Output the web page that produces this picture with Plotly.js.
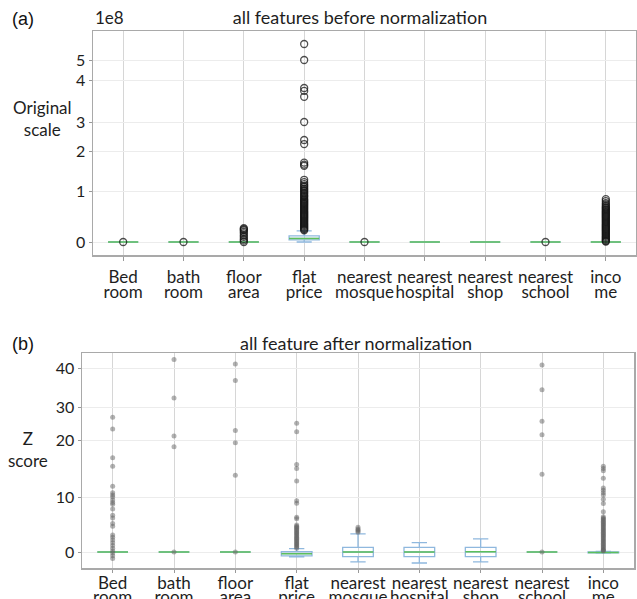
<!DOCTYPE html>
<html>
<head>
<meta charset="utf-8">
<script src="https://cdn.plot.ly/plotly-3.0.1.min.js"></script>
<style>html,body{margin:0;padding:0;background:#fff}#chart{width:637px;height:599px}</style>
</head>
<body>
<div id="chart"></div>
<script>
// ---------- data ----------
const categories = ['Bed room','bath room','floor area','flat price','nearest mosque','nearest hospital','nearest shop','nearest school','income'];
const tickLine1 = ['Bed','bath','floor','flat','nearest','nearest','nearest','nearest','inco'];
const tickLine2 = ['room','room','area','price','mosque','hospital','shop','school','me'];

// (a) original scale, values in units of 1e8
const tickValsA = [0, 1, 2, 3, 4, 5];
const q1A  = [0, 0, 0, 0.04, 0, 0, 0, 0, 0];
const medA = [0, 0, 0, 0.07, 0, 0, 0, 0, 0];
const q3A  = [0, 0, 0, 0.12, 0, 0, 0, 0, 0];
const loA  = [0, 0, 0, 0,    0, 0, 0, 0, 0];
const hiA  = [0, 0, 0, 0.22, 0, 0, 0, 0, 0];
const outBedA = [0];
const outBathA = [0];
const outFloorA = [0, 0.03, 0.06, 0.1, 0.13, 0.17, 0.2, 0.23, 0.25, 0.27];
const outFlatA = [5.8, 5.0, 3.81, 3.74, 3.6, 3.0, 2.38, 2.24, 1.71, 1.66, 1.63, 1.28, 1.22, 1.17, 1.13, 1.1, 1.06,
  1.03, 1.0, 0.97, 0.95, 0.92, 0.9, 0.88, 0.85, 0.83, 0.81, 0.79, 0.77, 0.75, 0.73, 0.71, 0.69, 0.67, 0.65, 0.63,
  0.61, 0.59, 0.57, 0.55, 0.53, 0.51, 0.49, 0.47, 0.45, 0.43, 0.41, 0.39, 0.37, 0.35, 0.33, 0.31, 0.29, 0.27, 0.25, 0.23];
const outMosqueA = [0];
const outHospitalA = [];
const outShopA = [];
const outSchoolA = [0];
const outIncomeA = [0.84, 0.8, 0.76, 0.73, 0.7, 0.68, 0.66, 0.64, 0.62, 0.6, 0.58, 0.56, 0.54, 0.52, 0.5, 0.48, 0.46,
  0.44, 0.42, 0.4, 0.38, 0.36, 0.34, 0.32, 0.3, 0.28, 0.26, 0.24, 0.22, 0.2, 0.18, 0.16, 0.14, 0.12, 0.1, 0.08, 0.06, 0.04, 0.02, 0.01];

// (b) z scores
const tickValsB = [0, 10, 20, 30, 40];
const q1B  = [0, 0, 0, -0.7,  -0.85, -0.85, -0.85, 0, -0.15];
const medB = [0, 0, 0, -0.3,   0,     0,     0.05, 0, -0.08];
const q3B  = [0, 0, 0, 0.05,   0.85,  0.85,  0.85, 0, 0];
const loB  = [0, 0, 0, -0.9,  -1.8,  -2.0,  -1.8,  0, -0.2];
const hiB  = [0, 0, 0, 0.6,    3.3,   1.7,   2.4,  0, 0.1];
const outBedB = [26.9, 23.3, 16.9, 15.4, 11.9, 10.75, 10.35, 10.0, 9.45, 9.0, 8.7, 7.8, 6.7, 6.2, 5.2, 4.7, 3.1, 2.7,
  2.2, 1.7, 1.2, 0.7, 0.2, -0.2, -0.7, -1.2];
const outBathB = [42.2, 32.3, 21.2, 18.8, 0];
const outFloorB = [41.0, 36.8, 22.9, 19.5, 13.8, 0];
const outFlatB = [25.1, 22.5, 15.7, 15.0, 12.8, 9.3, 8.85, 6.3, 6.05, 4.9, 4.7, 4.5, 4.3, 4.1, 3.9, 3.7, 3.5, 3.3,
  3.1, 2.9, 2.7, 2.5, 2.3, 2.1, 1.9, 1.7, 1.5, 1.3, 1.1, 0.9, 0.7];
const outMosqueB = [3.6, 3.8, 4.0, 4.2, 4.5];
const outHospitalB = [];
const outShopB = [];
const outSchoolB = [40.8, 34.4, 25.7, 21.6, 14.0, 0];
const outIncomeB = [15.4, 15.0, 14.6, 13.3, 11.6, 11.2, 10.75, 10.35, 9.6, 8.8, 7.3, 6.4, 6.2, 6.0, 5.8, 5.6, 5.4,
  5.2, 5.0, 4.8, 4.6, 4.4, 4.2, 4.0, 3.8, 3.6, 3.4, 3.2, 3.0, 2.8, 2.6, 2.4, 2.2, 2.0, 1.8, 1.6, 1.4, 1.2, 1.0, 0.8,
  0.6, 0.4, 0.3, 0.2];

// ---------- non-uniform axis scales (as in the original figure) ----------
const scaleA = {vals: [0, 1, 2, 3, 4, 5], pos: [0, 51, 91, 120, 162, 182]};
const scaleB = {vals: [0, 10, 20, 30, 40], pos: [0, 55, 112, 145, 184]};
function warp(v, s) {
  const a = s.vals, p = s.pos;
  let i = 0;
  if (v >= a[a.length - 1]) i = a.length - 2;
  else if (v > a[0]) { while (v > a[i + 1]) i++; }
  return p[i] + (v - a[i]) * (p[i + 1] - p[i]) / (a[i + 1] - a[i]);
}

const outA = [outBedA, outBathA, outFloorA, outFlatA, outMosqueA, outHospitalA, outShopA, outSchoolA, outIncomeA];
const outB = [outBedB, outBathB, outFloorB, outFlatB, outMosqueB, outHospitalB, outShopB, outSchoolB, outIncomeB];

function flatten(groups, s) {
  const xs = [], ys = [];
  groups.forEach((g, i) => g.forEach(v => { xs.push(categories[i]); ys.push(warp(v, s)); }));
  return {xs, ys};
}

const BOXCOL = '#8fb8de', MEDCOL = '#5cbf5c';
function boxTraces(q1, med, q3, lo, hi, s, xa, ya) {
  const w = arr => arr.map(v => warp(v, s));
  return [
    {type: 'box', x: categories, q1: w(q1), median: w(med), q3: w(q3), lowerfence: w(lo), upperfence: w(hi),
     xaxis: xa, yaxis: ya, width: 0.5, whiskerwidth: 0.5, boxpoints: false, fillcolor: 'rgba(0,0,0,0)',
     line: {color: BOXCOL, width: 1.3}, hoverinfo: 'skip', showlegend: false},
    {type: 'box', x: categories, q1: w(med), median: w(med), q3: w(med), lowerfence: w(med), upperfence: w(med),
     xaxis: xa, yaxis: ya, width: 0.5, whiskerwidth: 0, boxpoints: false, fillcolor: 'rgba(0,0,0,0)',
     line: {color: MEDCOL, width: 1.5}, hoverinfo: 'skip', showlegend: false}
  ];
}

const fa = flatten(outA, scaleA);
const fb = flatten(outB, scaleB);

const traces = [
  ...boxTraces(q1A, medA, q3A, loA, hiA, scaleA, 'x', 'y'),
  {type: 'scatter', mode: 'markers', x: fa.xs, y: fa.ys, xaxis: 'x', yaxis: 'y', showlegend: false, hoverinfo: 'skip',
   marker: {symbol: 'circle-open', size: 7, color: 'rgba(20,20,20,0.75)', line: {width: 1.3}}},
  ...boxTraces(q1B, medB, q3B, loB, hiB, scaleB, 'x2', 'y2'),
  {type: 'scatter', mode: 'markers', x: fb.xs, y: fb.ys, xaxis: 'x2', yaxis: 'y2', showlegend: false, hoverinfo: 'skip',
   marker: {symbol: 'circle', size: 5, color: 'rgba(100,100,100,0.5)'}},
  {type: 'scatter', x: [], y: [], xaxis: 'x3', yaxis: 'y', showlegend: false},
  {type: 'scatter', x: [], y: [], xaxis: 'x4', yaxis: 'y2', showlegend: false}
];

const W = 637, H = 599;
const FONT = 'Lato, "Noto Sans", sans-serif';
const TXT = '#1e1e1e';
const idx = categories.map((_, i) => i);

function mainX(domain, anchor, tl, so) {
  return {domain, anchor, type: 'category', categoryarray: categories, range: [-0.5, 8.5],
    tickmode: 'array', tickvals: categories, ticktext: tickLine1, tickfont: {family: FONT, size: 17, color: TXT},
    tickangle: 0, ticks: 'outside', ticklen: tl, tickcolor: '#999', ticklabelstandoff: so,
    showgrid: true, gridcolor: '#d6d6d6', gridwidth: 1,
    showline: true, linecolor: '#a9a9a9', linewidth: 1.5, mirror: true, zeroline: false, fixedrange: true};
}
function overlayX(over, anchor, tl, standoff) {
  return {overlaying: over, anchor, side: 'bottom', type: 'linear', range: [-0.5, 8.5],
    tickmode: 'array', tickvals: idx, ticktext: tickLine2, tickfont: {family: FONT, size: 17, color: TXT},
    tickangle: 0, ticks: 'outside', ticklen: tl, tickcolor: 'rgba(0,0,0,0)', ticklabelstandoff: standoff,
    showgrid: false, showline: false, zeroline: false, fixedrange: true};
}
function mainY(domain, anchor, range, tv, s, fs) {
  return {domain, anchor, range, tickmode: 'array', tickvals: tv.map(v => warp(v, s)), ticktext: tv.map(String),
    tickfont: {family: FONT, size: fs, color: TXT}, ticks: 'outside', ticklen: 3, tickcolor: '#999',
    showgrid: true, gridcolor: '#ececec', gridwidth: 1,
    showline: true, linecolor: '#a9a9a9', linewidth: 1.5, mirror: true, zeroline: false, fixedrange: true};
}

const layout = {
  width: W, height: H, margin: {l: 0, r: 0, t: 0, b: 0}, paper_bgcolor: '#fff', plot_bgcolor: '#fff',
  boxmode: 'overlay', showlegend: false,
  title: {text: 'all features before normalization', font: {family: FONT, size: 18, color: TXT},
          x: 360 / W, xanchor: 'center', y: 1 - 18 / H, yanchor: 'middle', xref: 'paper', yref: 'paper'},
  xaxis: mainX([93 / W, 636 / W], 'y', 4, 2),
  xaxis3: overlayX('x', 'y', 4, 18),
  yaxis: mainY([1 - 255 / H, 1 - 31 / H], 'x', [-13, 211], tickValsA, scaleA, 16),
  xaxis2: mainX([82 / W, 634 / W], 'y2', 3, -4),
  xaxis4: overlayX('x2', 'y2', 3, 11),
  yaxis2: mainY([1 - 568 / H, 1 - 353 / H], 'x2', [-16, 199], tickValsB, scaleB, 16),
  annotations: [
    {text: '(a)', xref: 'paper', yref: 'paper', x: 10 / W, y: 1 - 19 / H, xanchor: 'left', yanchor: 'middle',
     showarrow: false, font: {family: '"Liberation Sans", Arial, sans-serif', size: 18, color: '#111'}},
    {text: '(b)', xref: 'paper', yref: 'paper', x: 10 / W, y: 1 - 344 / H, xanchor: 'left', yanchor: 'middle',
     showarrow: false, font: {family: '"Liberation Sans", Arial, sans-serif', size: 18, color: '#111'}},
    {text: '1e8', xref: 'paper', yref: 'paper', x: 93 / W, y: 1 - 18 / H, xanchor: 'left', yanchor: 'middle',
     showarrow: false, font: {family: FONT, size: 17, color: TXT}},
    {text: 'all feature after normalization', xref: 'paper', yref: 'paper', x: 356 / W, y: 1 - 343 / H,
     xanchor: 'center', yanchor: 'middle', showarrow: false, font: {family: FONT, size: 18, color: TXT}},
    {text: 'Original<br>scale', xref: 'paper', yref: 'paper', x: 42 / W, y: 1 - 118 / H, xanchor: 'center',
     yanchor: 'middle', align: 'center', showarrow: false, font: {family: FONT, size: 17, color: TXT}},
    {text: 'Z<br>score', xref: 'paper', yref: 'paper', x: 28 / W, y: 1 - 449 / H, xanchor: 'center',
     yanchor: 'middle', align: 'center', showarrow: false, font: {family: FONT, size: 17, color: TXT}}
  ]
};

Plotly.newPlot('chart', traces, layout, {staticPlot: true, displayModeBar: false});
</script>
</body>
</html>
